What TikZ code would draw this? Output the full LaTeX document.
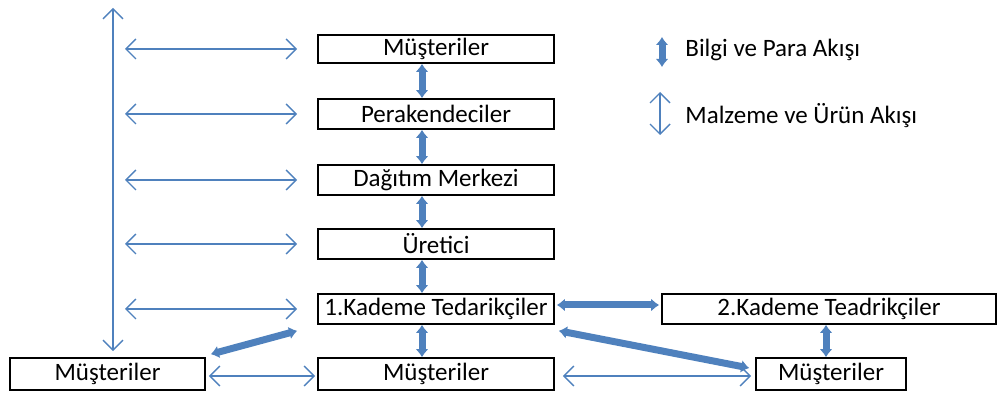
\documentclass[tikz,border=0pt]{standalone}
\usepackage{fontspec}
\setmainfont{Carlito}
\usetikzlibrary{arrows.meta}

\definecolor{flowblue}{RGB}{79,129,189}

\begin{document}
\begin{tikzpicture}[x=0.5pt,y=0.5pt,yscale=-1,xscale=1,
  box/.style={draw=black,line width=0.8pt,minimum height=14pt,inner sep=0pt,font=\fontsize{12.5}{15}\selectfont},
  legendtext/.style={anchor=west,inner sep=0pt,font=\fontsize{12.5}{15}\selectfont},
  infoflow/.style={draw=flowblue,line width=3.5pt,{Latex[length=4pt,width=6.5pt]}-{Latex[length=4pt,width=6.5pt]}},
  goodsflow/.style={draw=flowblue,line width=0.7pt,{Straight Barb[length=5pt,width=10pt]}-{Straight Barb[length=5pt,width=10pt]}}]
\useasboundingbox (0,0) rectangle (1000,394);

% Boxes of the chain
\node [box,minimum width=118pt] (musteriTop) at (436,49) {Müşteriler};
\node [box,minimum width=118pt,minimum height=15pt] (perakende) at (436,114) {Perakendeciler};
\node [box,minimum width=118pt,minimum height=15pt] (dagitim) at (436,180) {Dağıtım Merkezi};
\node [box,minimum width=118pt,minimum height=15pt] (uretici) at (436,244) {Üretici};
\node [box,minimum width=118pt,minimum height=15pt] (kademeBir) at (436,309) {1.Kademe Tedarikçiler};
\node [box,minimum width=167pt,minimum height=15pt] (kademeIki) at (829,309) {2.Kademe Teadrikçiler};
\node [box,minimum width=97.5pt,minimum height=16pt] (musteriSol) at (107.5,374) {Müşteriler};
\node [box,minimum width=118pt,minimum height=16pt] (musteriOrta) at (436,374) {Müşteriler};
\node [box,minimum width=75pt,minimum height=16pt] (musteriSag) at (831,374) {Müşteriler};

% Legend
\coordinate (bilgiUst) at (662,37);
\coordinate (bilgiAlt) at (662,67);
\coordinate (malzemeUst) at (660,92);
\coordinate (malzemeAlt) at (660,135);
\draw [infoflow] (bilgiUst) -- (bilgiAlt);
\draw [goodsflow] (malzemeUst) -- (malzemeAlt);
\node [legendtext] (bilgiText) at (685,50) {Bilgi ve Para Akışı};
\node [legendtext] (malzemeText) at (685,116) {Malzeme ve Ürün Akışı};

% Information and money flow
\foreach \ust/\alt in {musteriTop/perakende,perakende/dagitim,dagitim/uretici,uretici/kademeBir,kademeBir/musteriOrta}{
  \draw [infoflow] ([xshift=-7pt]\ust.south) -- ([xshift=-7pt]\alt.north);
}
\draw [infoflow] ([xshift=1pt,yshift=-2pt]kademeBir.east) -- ([xshift=-1pt,yshift=-2pt]kademeIki.west);
\draw [infoflow] ([xshift=-1.5pt]kademeIki.south) -- ([xshift=-2.5pt]musteriSag.north);
\draw [infoflow] ([xshift=2pt,yshift=3pt]kademeBir.south east) -- ([xshift=-3pt,yshift=-3pt]musteriSag.west);
\draw [infoflow] ([xshift=2.5pt,yshift=-1.5pt]musteriSol.north east) -- ([xshift=-10pt,yshift=3pt]kademeBir.south west);

% Material and product flow
\coordinate (solUst) at (113,8);
\draw [goodsflow] (solUst) -- ([xshift=2.75pt,yshift=-3pt]musteriSol.north);
\foreach \kutu/\sol in {musteriTop/l1,perakende/l2,dagitim/l3,uretici/l4,kademeBir/l5}{
  \coordinate (\sol) at (125,0 |- \kutu.west);
  \draw [goodsflow] (\sol) -- ([xshift=-10pt]\kutu.west);
}
\draw [goodsflow] ([xshift=1.5pt,yshift=1pt]musteriSol.east) -- ([xshift=-1pt,yshift=1pt]musteriOrta.west);
\draw [goodsflow] ([xshift=4pt,yshift=1pt]musteriOrta.east) -- ([xshift=-2pt,yshift=1pt]musteriSag.west);

\end{tikzpicture}
\end{document}
